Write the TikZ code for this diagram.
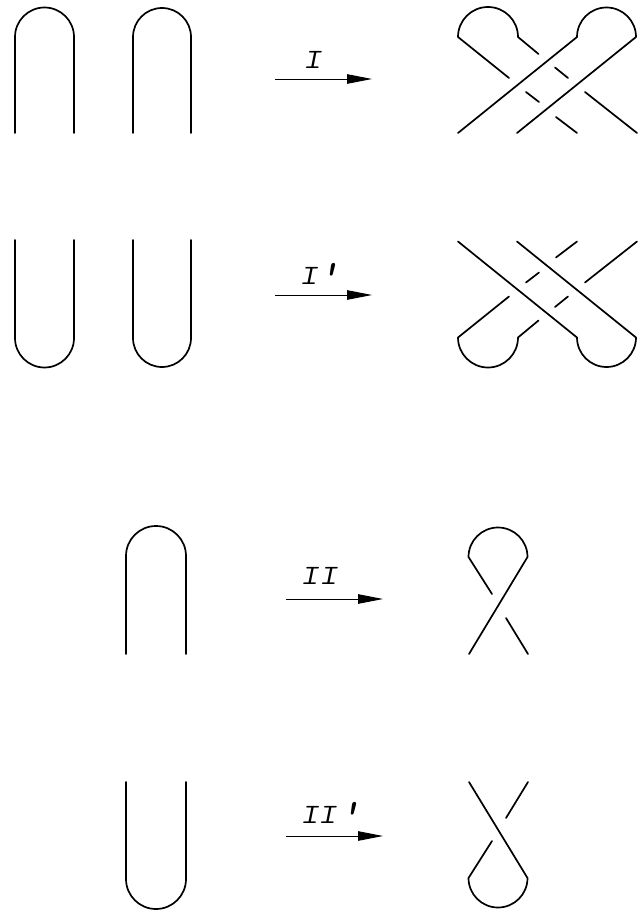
\documentclass[tikz,border=0pt]{standalone}
\usetikzlibrary{arrows.meta}
\newcommand{\wideI}{\scalebox{1.3}[1]{I}}
\newcommand{\boldprime}{\raisebox{-5pt}{\bfseries\scalebox{1.4}[1.5]{'}}}
\tikzset{
  strand/.style={line width=1.7pt,line cap=round,line join=round},
  maparrow/.style={line width=0.9pt,-{Triangle[length=25pt,width=9.5pt]}},
  lab/.style={anchor=base west,inner sep=0pt,xslant=0.2,transform shape,font=\fontsize{28}{28}\selectfont\ttfamily}
}
\begin{document}
\begin{tikzpicture}[x=1pt,y=-1pt]
\useasboundingbox (0,0) rectangle (637,912);
% arches
\draw[strand] (15,133) -- (15,37) arc[start angle=180,end angle=360,radius=29.5] -- (74,133);
\draw[strand] (133,133) -- (133,37) arc[start angle=180,end angle=360,radius=29] -- (191,133);
\draw[strand] (15,240) -- (15,338) arc[start angle=180,end angle=0,radius=29.5] -- (74,240);
\draw[strand] (133,240) -- (133,338) arc[start angle=180,end angle=0,radius=29] -- (191,240);
\draw[strand] (126,654) -- (126,556) arc[start angle=180,end angle=360,radius=30] -- (186,654);
\draw[strand] (126,782) -- (126,879) arc[start angle=180,end angle=0,radius=30] -- (186,782);
% knot I
\draw[strand] (509,78) -- (458,37) arc[start angle=180,end angle=360,radius=30] -- (538.5,54);
\draw[strand] (458,133) -- (577,37) arc[start angle=180,end angle=360,radius=29.5] -- (517,133);
\draw[strand] (555,67.5) -- (568,78);
\draw[strand] (526,92) -- (539,102);
\draw[strand] (585,92) -- (637,133);
\draw[strand] (556,117) -- (577,133);
% knot I'
\draw[strand] (509,296.5) -- (458,337.5) arc[start angle=180,end angle=0,radius=30] -- (538.5,320.5);
\draw[strand] (458,241.5) -- (577,337.5) arc[start angle=180,end angle=0,radius=29.5] -- (517,241.5);
\draw[strand] (555,307) -- (568,296.5);
\draw[strand] (526,282.5) -- (539,272.5);
\draw[strand] (585,282.5) -- (637,241.5);
\draw[strand] (556,257.5) -- (577,241.5);
% knot II
\draw[strand] (492,594) -- (468.5,557) arc[start angle=180,end angle=360,radius=29.5] -- (469,654);
\draw[strand] (506,618) -- (528,654);
% knot II'
\draw[strand] (492,841) -- (468.5,878) arc[start angle=180,end angle=0,radius=29.5] -- (469,782);
\draw[strand] (506,818) -- (528,782);
% arrows
\coordinate (a1s) at (275,79); \coordinate (a1e) at (372,79);
\coordinate (a2s) at (275,295); \coordinate (a2e) at (372,295);
\coordinate (a3s) at (286,599); \coordinate (a3e) at (383,599);
\coordinate (a4s) at (286,836); \coordinate (a4e) at (383,836);
\draw[maparrow] (a1s) -- (a1e);
\draw[maparrow] (a2s) -- (a2e);
\draw[maparrow] (a3s) -- (a3e);
\draw[maparrow] (a4s) -- (a4e);
% labels
\coordinate (p1) at (302.6,69);
\coordinate (p2) at (299,284.5);
\coordinate (p3) at (300,584.5);
\coordinate (p4) at (300,823);
\node[lab] (l1) at (p1) {\wideI};
\node[lab] (l2) at (p2) {\wideI\kern2pt\boldprime};
\node[lab] (l3) at (p3) {\wideI\wideI};
\node[lab] (l4) at (p4) {\wideI\kern-1pt\wideI\kern4pt\boldprime};
\end{tikzpicture}
\end{document}
